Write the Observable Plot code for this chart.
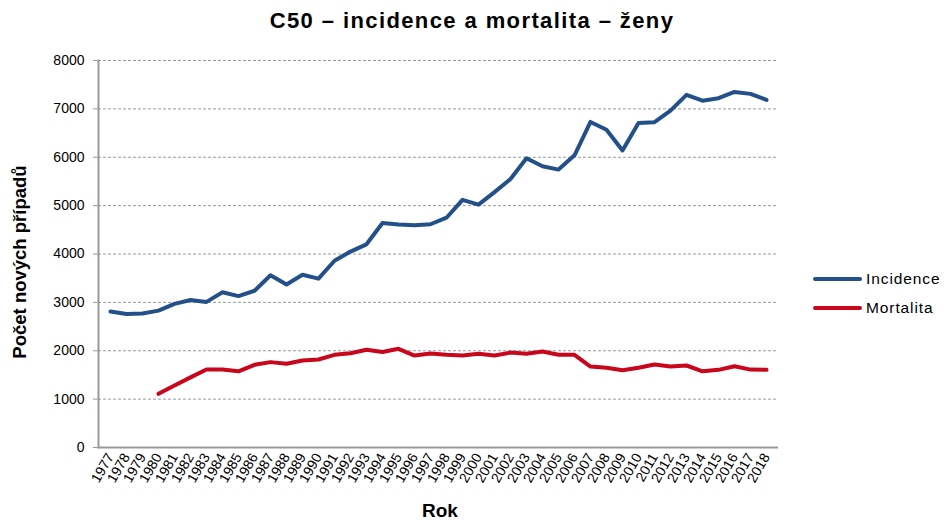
<!DOCTYPE html>
<html>
<head>
<meta charset="utf-8">
<script src="https://cdn.jsdelivr.net/npm/d3@7"></script>
<script src="https://cdn.jsdelivr.net/npm/@observablehq/plot@0.6"></script>
<style>
  html, body { margin: 0; padding: 0; background: #fff; }
  #wrap { position: relative; width: 944px; height: 520px; font-family: "Liberation Sans", Arial, sans-serif; }
  #title { position: absolute; top: 8px; left: 0; width: 944px; text-align: center; font-weight: bold; font-size: 22px; letter-spacing: 1.4px; color: #000; }
  #ylab { position: absolute; left: 20px; top: 262px; transform: translate(-50%, -50%) rotate(-90deg); white-space: nowrap; font-weight: bold; font-size: 18.5px; }
  #xlab { position: absolute; left: 440px; top: 500px; transform: translateX(-50%); font-weight: bold; font-size: 19px; }
  #legend { position: absolute; left: 813px; top: 264px; font-size: 15.5px; letter-spacing: 0.9px; }
  .li { display: flex; align-items: center; height: 29px; }
  .sw { width: 49px; height: 4px; border-radius: 2px; margin-right: 4px; }
  svg { position: absolute; left: 0; top: 0; }
</style>
</head>
<body>
<div id="wrap">
  <div id="title">C50 – incidence a mortalita – ženy</div>
  <div id="ylab">Počet nových případů</div>
  <div id="xlab">Rok</div>
  <div id="legend"></div>
</div>
<script>
const years = [1977,1978,1979,1980,1981,1982,1983,1984,1985,1986,1987,1988,1989,1990,1991,1992,1993,1994,1995,1996,1997,1998,1999,2000,2001,2002,2003,2004,2005,2006,2007,2008,2009,2010,2011,2012,2013,2014,2015,2016,2017,2018];
const incidence = [2810,2760,2770,2830,2970,3050,3010,3210,3130,3240,3560,3370,3570,3490,3860,4050,4200,4640,4610,4595,4615,4750,5120,5020,5280,5550,5980,5815,5745,6040,6730,6570,6140,6710,6725,6965,7290,7170,7220,7350,7310,7185];
const mortality = [null,null,null,1110,1280,1450,1612,1612,1575,1710,1765,1730,1800,1820,1915,1950,2020,1975,2040,1900,1945,1916,1902,1936,1902,1962,1936,1984,1916,1916,1674,1647,1595,1647,1716,1674,1695,1575,1605,1681,1610,1605];
const yTicks = [0,1000,2000,3000,4000,5000,6000,7000,8000];
const seriesNames = ["Incidence", "Mortalita"];
const seriesColors = ["#24508a", "#c8061c"];

const incData = years.map((y, i) => ({year: String(y), value: incidence[i]}));
const morData = years.map((y, i) => ({year: String(y), value: mortality[i]})).filter(d => d.value != null);

const chart = Plot.plot({
  width: 944,
  height: 520,
  marginLeft: 98,
  marginRight: 166,
  marginTop: 60,
  marginBottom: 73,
  style: {fontFamily: "'Liberation Sans', Arial, sans-serif", fontSize: "14px", background: "transparent", color: "#000"},
  x: {type: "point", domain: years.map(String), padding: 0.5, label: null},
  y: {domain: [0, 8000], label: null},
  marks: [
    Plot.ruleY(yTicks.filter(d => d > 0), {stroke: "#9a9a9a", strokeWidth: 1, strokeDasharray: "3,2"}),
    Plot.frame({anchor: "left", stroke: "#999", strokeWidth: 2}),
    Plot.ruleY([0], {stroke: "#999", strokeWidth: 2}),
    Plot.axisY(yTicks, {tickSize: 5, tickPadding: 9, stroke: "#999", fontSize: 14, letterSpacing: 1.3, fill: "#000", tickFormat: d => String(d), label: null}),
    Plot.axisX({tickSize: 0, tickPadding: 7, tickRotate: -60, fontSize: 14, letterSpacing: 0.6, fill: "#000", label: null}),
    Plot.line(incData, {x: "year", y: "value", stroke: seriesColors[0], strokeWidth: 4, strokeLinejoin: "round", strokeLinecap: "round"}),
    Plot.line(morData, {x: "year", y: "value", stroke: seriesColors[1], strokeWidth: 4, strokeLinejoin: "round", strokeLinecap: "round"})
  ]
});
document.getElementById("wrap").insertBefore(chart, document.getElementById("wrap").firstChild);

const legend = document.getElementById("legend");
seriesNames.forEach((n, i) => {
  const row = document.createElement("div");
  row.className = "li";
  row.innerHTML = `<div class="sw" style="background:${seriesColors[i]}"></div><span>${n}</span>`;
  legend.appendChild(row);
});
</script>
</body>
</html>
